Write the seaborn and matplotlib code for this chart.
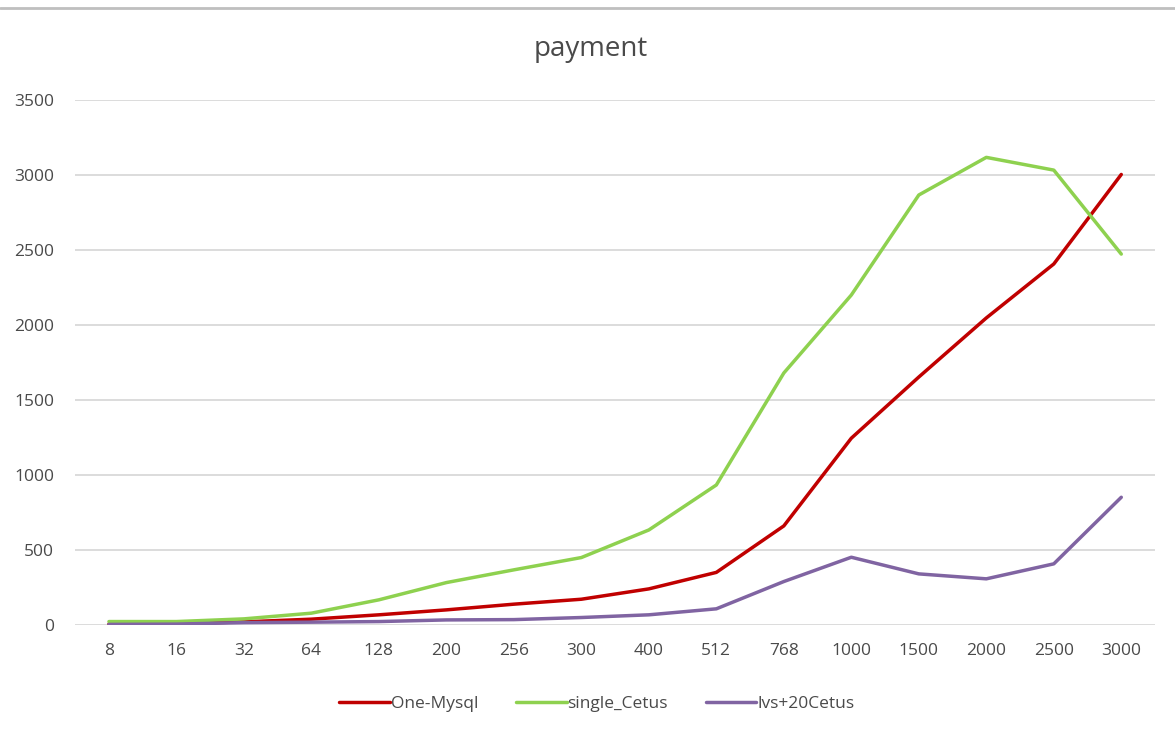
import matplotlib
import matplotlib.pyplot as plt
import pandas as pd
import seaborn as sns
from matplotlib.lines import Line2D

matplotlib.use("Agg")

categories = ["8", "16", "32", "64", "128", "200", "256", "300",
              "400", "512", "768", "1000", "1500", "2000", "2500", "3000"]
one_mysql = [5, 8, 20, 38, 67, 100, 138, 171,
             240, 350, 660, 1245, 1653, 2047, 2407, 3004]
single_cetus = [22, 22, 40, 78, 167, 282, 367, 449,
                633, 933, 1680, 2200, 2867, 3118, 3033, 2473]
lvs_20cetus = [3, 5, 15, 18, 22, 33, 35, 49,
               67, 107, 289, 451, 340, 307, 407, 851]

series_names = ["One-Mysql", "single_Cetus", "lvs+20Cetus"]
colors = ["#C00000", "#8ED14F", "#8064A2"]

df = pd.concat(
    [
        pd.DataFrame({"x": categories, "value": vals, "series": name})
        for name, vals in zip(series_names, [one_mysql, single_cetus, lvs_20cetus])
    ],
    ignore_index=True,
)

sns.set_theme(style="white")
plt.rcParams["font.family"] = ["Open Sans", "DejaVu Sans"]

fig = plt.figure(figsize=(11.75, 7.36), dpi=100)
ax = fig.add_axes([0.064, 0.151, 0.919, 0.713])

sns.lineplot(
    data=df,
    x="x",
    y="value",
    hue="series",
    palette=dict(zip(series_names, colors)),
    linewidth=2.5,
    sort=False,
    ax=ax,
    legend=False,
)

ax.set_ylim(0, 3500)
ax.set_xlim(-0.5, len(categories) - 0.5)
ax.set_yticks(range(0, 3501, 500))
ax.yaxis.grid(True, color="#D9D9D9", linewidth=1.3)
ax.set_axisbelow(True)
for s in ax.spines.values():
    s.set_visible(False)
ax.tick_params(axis="both", length=0, labelsize=12.5, labelcolor="#4A4A4A")
ax.tick_params(axis="y", pad=15)
ax.tick_params(axis="x", pad=13)
ax.set_xlabel("")
ax.set_ylabel("")

fig.text(0.503, 0.934, "payment", ha="center", va="center",
         fontsize=20, color="#4A4A4A")

handles = [Line2D([0], [0], color=c, linewidth=2.5) for c in colors]
fig.legend(
    handles,
    series_names,
    loc="center",
    bbox_to_anchor=(0.508, 0.044),
    ncol=3,
    frameon=False,
    fontsize=12.5,
    handlelength=2.9,
    handletextpad=0.05,
    columnspacing=2.2,
    labelcolor="#4A4A4A",
)

# thin gray border line across the top
fig.add_artist(Line2D([0, 1], [0.989, 0.989], transform=fig.transFigure,
                      color="#BFBFBF", linewidth=2))

fig.savefig("out.png", dpi=100)
plt.close(fig)
